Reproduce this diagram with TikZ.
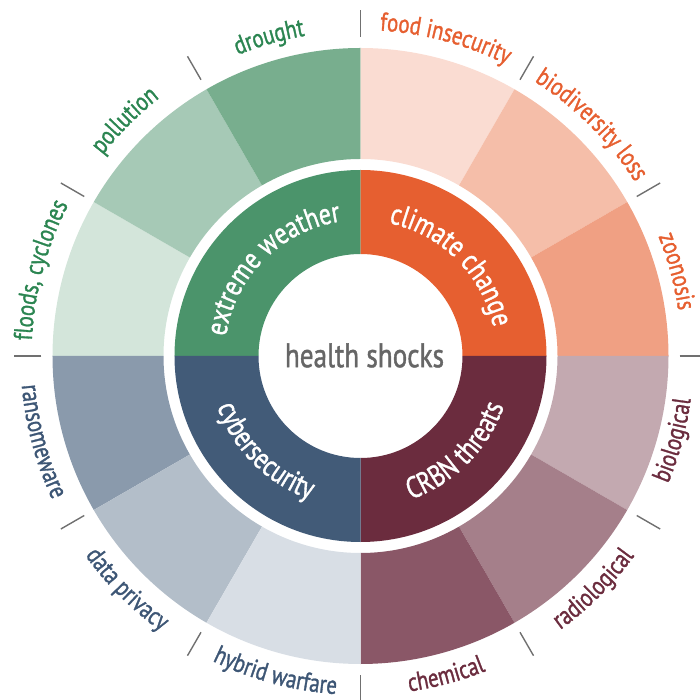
\documentclass[tikz,border=0pt]{standalone}
\usepackage{fontspec}
\newfontfamily\labfont[FakeStretch=0.8,FakeBold=1.2]{PT Sans}
\usetikzlibrary{decorations.text}
\definecolor{gdark}{HTML}{4B946B}
\definecolor{gdrought}{HTML}{78AE8E}
\definecolor{gpollution}{HTML}{A6C9B6}
\definecolor{gfloods}{HTML}{D3E5DA}
\definecolor{odark}{HTML}{E65F30}
\definecolor{ofood}{HTML}{FADCD2}
\definecolor{obiodiv}{HTML}{F5BEA9}
\definecolor{ozoon}{HTML}{F0A083}
\definecolor{bdark}{HTML}{425B78}
\definecolor{bransom}{HTML}{8A9AAC}
\definecolor{bdata}{HTML}{B3BEC9}
\definecolor{bhybrid}{HTML}{D8DEE5}
\definecolor{mdark}{HTML}{6B2C3E}
\definecolor{mbiol}{HTML}{C3A9B0}
\definecolor{mradio}{HTML}{A57F8A}
\definecolor{mchem}{HTML}{8A5767}
\definecolor{lgreen}{HTML}{2B8551}
\definecolor{lorange}{HTML}{E65F30}
\definecolor{lblue}{HTML}{3D5675}
\definecolor{lmaroon}{HTML}{6B2C3E}
\definecolor{cgray}{HTML}{666666}
\definecolor{tickgray}{HTML}{707070}
\newcommand\outfmt[1]{\labfont\fontsize{26pt}{30pt}\selectfont\color{#1}}
\newcommand\infmt{\labfont\fontsize{30pt}{36pt}\selectfont\color{white}}
\newcommand\arclab[5]{%
  \path[decorate, decoration={text along path, text align=center, text={|#4|#5}}]
    (#1:#3) arc[start angle=#1, end angle=#2, radius=#3];}
\tikzset{
  ticks/.style={draw=tickgray, line width=1.4pt},
}
\begin{document}
\begin{tikzpicture}
\useasboundingbox (-360.5pt,-344pt) rectangle (338.5pt,356pt);
% outer ring segments
\foreach \a/\c in {150/gfloods, 120/gpollution, 90/gdrought, 60/ofood, 30/obiodiv, 0/ozoon,
                   -30/mbiol, -60/mradio, -90/mchem, 180/bransom, 210/bdata, 240/bhybrid}
  \fill[\c] (\a:197pt) arc[start angle=\a, end angle=\a+30, radius=197pt]
     -- (\a+30:308pt) arc[start angle=\a+30, end angle=\a, radius=308pt] -- cycle;
% inner ring quadrants
\foreach \a/\c in {90/gdark, 0/odark, -90/mdark, 180/bdark}
  \fill[\c] (\a:102pt) arc[start angle=\a, end angle=\a+90, radius=102pt]
     -- (\a+90:186pt) arc[start angle=\a+90, end angle=\a, radius=186pt] -- cycle;
% ticks
\foreach \a in {0,30,...,330}
  \draw[ticks] (\a:319pt) -- (\a:346pt);
% centre
\node[inner sep=0pt, text=cgray] (centre) at (4pt,0.5pt)
  {\labfont\fontsize{34pt}{40pt}\selectfont health shocks};
% inner labels
\arclab{185}{85}{136pt}{\infmt}{extreme weather}
\arclab{95}{-5}{136pt}{\infmt}{climate change}
\arclab{175}{275}{152pt}{\infmt}{cybersecurity}
\arclab{265}{365}{152pt}{\infmt}{CRBN threats}
% outer labels, top half
\arclab{190}{140}{329pt}{\outfmt{lgreen}}{floods, cyclones}
\arclab{160}{110}{327pt}{\outfmt{lgreen}}{pollution}
\arclab{131}{81}{325pt}{\outfmt{lgreen}}{drought}
\arclab{100}{50}{326pt}{\outfmt{lorange}}{food insecurity}
\arclab{70}{20}{325pt}{\outfmt{lorange}}{biodiversity loss}
\arclab{40}{-10}{321pt}{\outfmt{lorange}}{zoonosis}
% outer labels, bottom half
\arclab{170}{220}{340pt}{\outfmt{lblue}}{ransomeware}
\arclab{200}{250}{340pt}{\outfmt{lblue}}{data privacy}
\arclab{230}{280}{339pt}{\outfmt{lblue}}{hybrid warfare}
\arclab{260}{310}{339pt}{\outfmt{lmaroon}}{chemical}
\arclab{290}{340}{339pt}{\outfmt{lmaroon}}{radiological}
\arclab{320}{370}{333pt}{\outfmt{lmaroon}}{biological}
\end{tikzpicture}
\end{document}
